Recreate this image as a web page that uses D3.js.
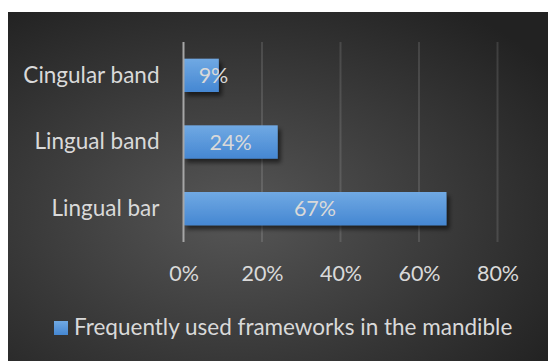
<!DOCTYPE html>
<html>
<head>
<meta charset="utf-8">
<script src="https://cdn.jsdelivr.net/npm/d3@7/dist/d3.min.js"></script>
<style>
  html, body { margin: 0; padding: 0; background: #ffffff; }
  svg { display: block; }
  text { font-family: Lato, "Open Sans", sans-serif; }
</style>
</head>
<body>
<script>
// Frameworks used in the mandible, share of cases
const categories = ["Cingular band", "Lingual band", "Lingual bar"];
const values = [0.09, 0.24, 0.67];
const tickValues = [0, 0.2, 0.4, 0.6, 0.8];
const seriesName = "Frequently used frameworks in the mandible";

const W = 552, H = 361;
const svg = d3.select("body").append("svg").attr("width", W).attr("height", H);
const defs = svg.append("defs");

// panel background: dark radial gradient
const bg = defs.append("radialGradient").attr("id", "bg")
  .attr("cx", "42%").attr("cy", "58%").attr("r", "72%");
bg.append("stop").attr("offset", "0%").attr("stop-color", "#565656");
bg.append("stop").attr("offset", "100%").attr("stop-color", "#222222");

// bar fill gradient
const bf = defs.append("linearGradient").attr("id", "barFill")
  .attr("x1", 0).attr("y1", 0).attr("x2", 0).attr("y2", 1);
bf.append("stop").attr("offset", "0%").attr("stop-color", "#70a9e3");
bf.append("stop").attr("offset", "100%").attr("stop-color", "#4587d2");

const sh = defs.append("filter").attr("id", "shadow")
  .attr("x", "-10%").attr("y", "-20%").attr("width", "130%").attr("height", "160%");
sh.append("feDropShadow").attr("dx", 3).attr("dy", 4).attr("stdDeviation", 2)
  .attr("flood-color", "#000").attr("flood-opacity", 0.55);

svg.append("rect").attr("x", 8).attr("y", 12).attr("width", 540).attr("height", 349)
  .attr("fill", "url(#bg)");

const plot = { left: 183.5, right: 497.5, top: 42, bottom: 242 };

const x = d3.scaleLinear().domain([0, 0.8]).range([plot.left, plot.right]);
const y = d3.scaleBand().domain(categories).range([plot.top, plot.bottom])
  .paddingInner(0.5).paddingOuter(0.25);

// vertical gridlines
svg.append("g").selectAll("line").data(tickValues.slice(1)).join("line")
  .attr("x1", d => x(d)).attr("x2", d => x(d))
  .attr("y1", plot.top).attr("y2", plot.bottom)
  .attr("stroke", "#ffffff").attr("stroke-opacity", 0.12).attr("stroke-width", 2);

// bars
const rows = categories.map((c, i) => ({ cat: c, v: values[i] }));
svg.append("g").selectAll("rect").data(rows).join("rect")
  .attr("x", x(0)).attr("y", d => y(d.cat))
  .attr("width", d => x(d.v) - x(0)).attr("height", y.bandwidth())
  .attr("fill", "url(#barFill)").attr("filter", "url(#shadow)");

// value axis line at zero
svg.append("line").attr("x1", x(0)).attr("x2", x(0))
  .attr("y1", plot.top).attr("y2", plot.bottom)
  .attr("stroke", "#a6a6a6").attr("stroke-width", 2);

const fmt = d3.format(".0%");

// bar value labels
svg.append("g").selectAll("text").data(rows).join("text")
  .attr("x", d => Math.max((x(0) + x(d.v)) / 2, x(0) + 30))
  .attr("y", d => y(d.cat) + y.bandwidth() / 2)
  .attr("dy", "0.36em").attr("text-anchor", "middle")
  .attr("font-size", 21.5).attr("fill", "#d9d9d9")
  .text(d => fmt(d.v));

// category axis
const yAxis = svg.append("g").attr("transform", `translate(${x(0) - 2},0)`)
  .call(d3.axisLeft(y).tickSize(0).tickPadding(22));
yAxis.select(".domain").remove();
yAxis.selectAll("text").attr("font-size", 22.5).attr("fill", "#d9d9d9")
  .style("font-family", "Lato, 'Open Sans', sans-serif");

// value axis
const xAxis = svg.append("g").attr("transform", `translate(0,${plot.bottom})`)
  .call(d3.axisBottom(x).tickValues(tickValues).tickFormat(fmt).tickSize(0).tickPadding(24));
xAxis.select(".domain").remove();
xAxis.selectAll("text").attr("font-size", 21.5).attr("fill", "#d9d9d9")
  .style("font-family", "Lato, 'Open Sans', sans-serif");

// legend
const lg = svg.append("g");
lg.append("rect").attr("x", 54).attr("y", 321).attr("width", 14).attr("height", 14)
  .attr("fill", "url(#barFill)");
lg.append("text").attr("x", 74).attr("y", 335).attr("font-size", 22.5)
  .attr("fill", "#d9d9d9").text(seriesName);
</script>
</body>
</html>
